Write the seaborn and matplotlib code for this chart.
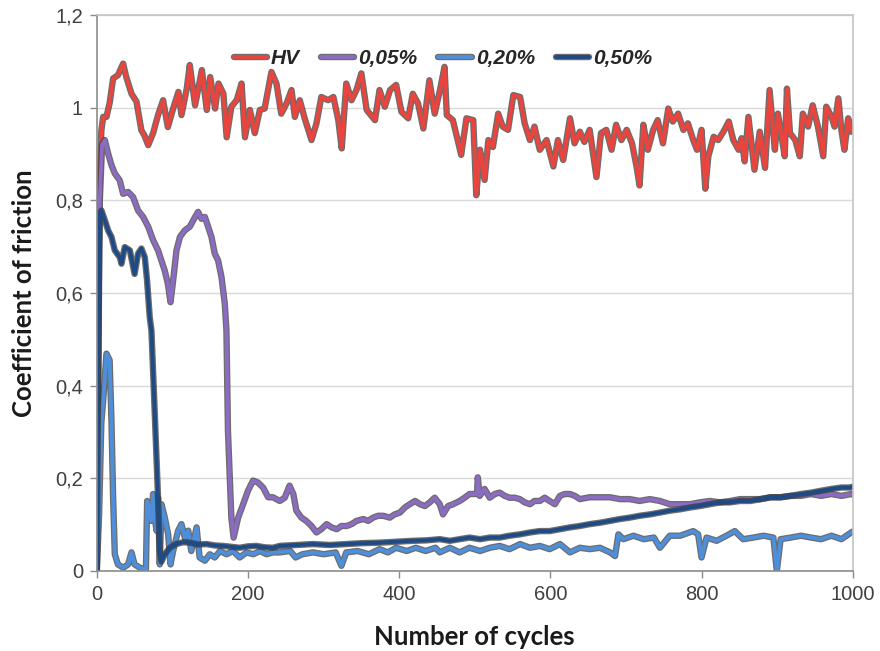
import numpy as np
import pandas as pd
import matplotlib
matplotlib.use("Agg")
import matplotlib.pyplot as plt
import matplotlib.patheffects as pe
from matplotlib.ticker import FuncFormatter
import seaborn as sns

# --- friction traces (cycle, coefficient of friction) ---
hv_cycles = [0, 3, 6, 8.4, 12.8, 17, 21.6, 28, 34.8, 39, 45.9, 52.5, 59, 63, 68, 74.5, 81, 87.7, 94,
             101, 108, 112, 119, 123, 130, 139, 145.5, 150, 156.5, 161, 167.5, 171.8, 178, 185, 191.5,
             196, 202.5, 209, 215.7, 222, 231, 237.7, 244, 251, 257.6, 262, 268.5, 275, 284, 290.6,
             297, 306, 313, 319.5, 324, 330, 337, 343.5, 350, 357, 368, 374, 381, 388, 396, 403, 412,
             418, 425, 432, 440, 447, 454, 460, 463, 471, 478, 482, 489, 498, 502, 507, 513, 518, 524,
             531, 537, 544, 551, 560, 566, 573, 579, 586, 595, 604, 610, 617, 626, 632, 639, 645, 652,
             661, 667, 674, 681, 687, 694, 701, 708, 714, 718, 723, 729, 736, 742, 749, 756, 762, 769,
             776, 782, 789, 794, 800, 805, 809, 816, 822, 829, 836, 842, 849, 853, 857, 862, 866, 870,
             877, 884, 890, 897, 901, 906, 910, 913, 917, 924, 930, 934, 941, 947, 954, 961, 965, 972,
             976, 981, 985, 989, 994, 998, 1000]
hv_cof = [0.0, 0.80, 0.95, 0.98, 0.98, 1.01, 1.063, 1.07, 1.095, 1.066, 1.03, 1.013, 0.951, 0.94, 0.919,
          0.945, 0.984, 1.016, 0.958, 0.998, 1.034, 0.984, 1.041, 1.092, 1.005, 1.081, 0.995, 1.066, 0.998,
          1.052, 1.030, 0.936, 1.002, 1.016, 1.052, 0.936, 0.995, 0.945, 0.995, 0.998, 1.077, 1.052, 0.987,
          1.009, 1.038, 0.980, 1.016, 0.977, 0.930, 0.966, 1.023, 1.016, 1.023, 0.973, 0.912, 1.052, 1.016,
          1.038, 1.074, 0.995, 0.973, 1.038, 1.002, 1.038, 1.049, 0.991, 0.977, 1.030, 1.009, 0.955, 1.059,
          0.987, 1.038, 1.088, 0.984, 0.973, 0.926, 0.898, 0.977, 0.973, 0.811, 0.909, 0.844, 0.930, 0.915,
          0.987, 0.959, 0.952, 1.027, 1.023, 0.966, 0.930, 0.959, 0.909, 0.930, 0.873, 0.930, 0.887, 0.977,
          0.923, 0.948, 0.926, 0.952, 0.850, 0.945, 0.952, 0.909, 0.963, 0.930, 0.952, 0.923, 0.873, 0.832,
          0.963, 0.909, 0.952, 0.973, 0.923, 0.998, 0.970, 0.987, 0.952, 0.966, 0.930, 0.909, 0.952, 0.825,
          0.895, 0.937, 0.930, 0.948, 0.970, 0.930, 0.909, 0.934, 0.884, 0.980, 0.923, 0.866, 0.948, 0.870,
          1.038, 0.909, 0.987, 0.937, 0.895, 1.041, 0.945, 0.930, 0.895, 0.987, 0.959, 1.005, 0.959, 0.895,
          1.002, 0.980, 0.959, 1.020, 0.952, 0.909, 0.977, 0.948, 0.955]

c005_cycles = [0, 2, 4, 7, 10.6, 15, 19.4, 23.8, 30.4, 34.8, 41.4, 48, 54.6, 61.3, 68, 74.5, 81, 85.5,
               89.9, 94, 97.5, 101, 105.4, 110, 116.4, 123, 130, 134, 138.5, 143, 147.3, 151.7, 156,
               160.5, 165, 169.3, 171.5, 173.5, 178, 181, 187, 193.6, 200, 206.7, 213, 220, 226.7, 233,
               242, 248.6, 255, 260, 264, 270.7, 277, 284, 290.6, 297, 304, 310.6, 317.5, 323.6, 330.7,
               337, 343.7, 352.5, 359, 365.5, 372, 379, 387.6, 394, 401, 407.6, 414, 421, 427.6, 434,
               440.5, 447, 453.7, 458, 464.7, 471.3, 480, 486.6, 493, 500, 503, 504, 506.6, 513, 519.8,
               526.5, 533, 539.7, 546, 553, 559.6, 566, 573, 579, 586, 592.6, 599, 606, 612.7, 619, 626,
               632.5, 639, 652, 665.6, 679, 692, 705, 718, 731.5, 745, 758, 771.6, 785, 797.6, 811,
               824.6, 838, 851, 864.7, 878, 891.5, 904.6, 918, 931.6, 945, 958, 972, 985, 998, 1000]
c005_cof = [0.0, 0.45, 0.80, 0.92, 0.93, 0.901, 0.876, 0.858, 0.843, 0.814, 0.818, 0.807, 0.778, 0.764,
            0.743, 0.714, 0.692, 0.670, 0.648, 0.620, 0.580, 0.627, 0.692, 0.721, 0.735, 0.743, 0.764,
            0.775, 0.760, 0.764, 0.743, 0.721, 0.685, 0.670, 0.634, 0.577, 0.519, 0.303, 0.115, 0.072,
            0.115, 0.144, 0.173, 0.195, 0.191, 0.180, 0.159, 0.159, 0.151, 0.158, 0.184, 0.166, 0.130,
            0.115, 0.108, 0.097, 0.083, 0.090, 0.101, 0.094, 0.090, 0.097, 0.097, 0.101, 0.108, 0.112,
            0.108, 0.115, 0.119, 0.119, 0.115, 0.122, 0.126, 0.137, 0.144, 0.151, 0.144, 0.140, 0.148,
            0.158, 0.144, 0.122, 0.140, 0.144, 0.151, 0.158, 0.166, 0.166, 0.166, 0.202, 0.162, 0.177,
            0.158, 0.166, 0.169, 0.162, 0.158, 0.158, 0.155, 0.148, 0.144, 0.151, 0.151, 0.158, 0.151,
            0.144, 0.162, 0.166, 0.166, 0.162, 0.155, 0.159, 0.159, 0.159, 0.155, 0.155, 0.151, 0.155,
            0.151, 0.144, 0.144, 0.144, 0.148, 0.151, 0.148, 0.151, 0.155, 0.155, 0.155, 0.159, 0.159,
            0.162, 0.162, 0.166, 0.162, 0.166, 0.162, 0.166, 0.165]

c020_cycles = [0, 3, 6, 9, 12.8, 17, 19.4, 21.6, 23.8, 28, 35, 41.4, 45.9, 50, 57, 63.5, 65, 66.6, 69.2,
               72.3, 74.5, 76.7, 79, 81, 83.3, 85.5, 90, 94.4, 97.5, 101, 107.6, 112, 116.4, 121, 125,
               132, 136, 143, 149.5, 156, 163, 171.6, 180.3, 189, 198, 207, 215.7, 224.5, 233, 242, 256,
               263, 272, 286, 300, 316, 323.6, 330, 345, 360, 374, 385, 396, 410, 422, 435, 448, 453.7,
               467, 480, 493, 507, 520, 533, 546, 560, 573, 586, 599, 612.7, 626, 639, 652, 665.6, 679,
               685.6, 690, 696.6, 710, 723.5, 737, 745, 758, 771.6, 789, 795.5, 800, 806.6, 820, 833,
               844, 855, 868.6, 882, 895, 899.6, 904.6, 918, 931.6, 945, 958, 972, 985, 998, 1000]
c020_cof = [0.0, 0.12, 0.32, 0.38, 0.469, 0.455, 0.324, 0.158, 0.036, 0.014, 0.007, 0.014, 0.040, 0.014,
            0.007, 0.004, 0.004, 0.151, 0.137, 0.108, 0.166, 0.115, 0.087, 0.158, 0.014, 0.144, 0.115,
            0.079, 0.014, 0.043, 0.087, 0.101, 0.072, 0.087, 0.043, 0.094, 0.029, 0.022, 0.036, 0.029,
            0.043, 0.036, 0.043, 0.029, 0.040, 0.036, 0.043, 0.036, 0.040, 0.040, 0.043, 0.029, 0.036,
            0.040, 0.036, 0.040, 0.011, 0.040, 0.043, 0.036, 0.047, 0.040, 0.050, 0.043, 0.050, 0.043,
            0.050, 0.040, 0.050, 0.040, 0.050, 0.043, 0.050, 0.054, 0.047, 0.058, 0.050, 0.054, 0.047,
            0.058, 0.040, 0.050, 0.047, 0.050, 0.040, 0.032, 0.079, 0.0685, 0.076, 0.0685, 0.072, 0.050,
            0.076, 0.076, 0.086, 0.079, 0.029, 0.072, 0.065, 0.076, 0.086, 0.0685, 0.072, 0.076, 0.072,
            0.0, 0.0685, 0.072, 0.076, 0.072, 0.0685, 0.076, 0.0685, 0.083, 0.085]

c050_cycles = [0, 1.5, 3, 4, 6.2, 10.6, 15, 19.4, 23.8, 30.4, 32.6, 37, 43.7, 50, 54.6, 59, 63.5, 66.5,
               70, 72.3, 76.7, 81, 83.3, 85.5, 90, 96.5, 105, 114, 123, 134, 145, 156, 167, 178, 189,
               200, 211, 222, 233, 242, 264, 286, 308, 330, 352, 374, 396, 418, 436, 453.7, 467, 480,
               493, 507, 520, 533, 546, 560, 573, 586, 599, 612.7, 626, 639, 652, 665.6, 679, 692, 705,
               718, 731.5, 745, 758, 771.6, 785, 797.6, 811, 824.6, 838, 851, 864.7, 878, 891.5, 904.6,
               918, 931.6, 945, 958, 972, 985, 998, 1000]
c050_cof = [0.0, 0.35, 0.70, 0.771, 0.778, 0.757, 0.735, 0.721, 0.692, 0.677, 0.663, 0.699, 0.692, 0.641,
            0.685, 0.696, 0.677, 0.627, 0.548, 0.519, 0.339, 0.158, 0.043, 0.020, 0.036, 0.050, 0.058,
            0.062, 0.061, 0.057, 0.058, 0.055, 0.054, 0.052, 0.050, 0.053, 0.054, 0.051, 0.050, 0.054,
            0.056, 0.058, 0.056, 0.058, 0.060, 0.061, 0.063, 0.065, 0.066, 0.0685, 0.065, 0.0685, 0.072,
            0.0685, 0.072, 0.072, 0.076, 0.079, 0.083, 0.086, 0.086, 0.090, 0.094, 0.097, 0.101, 0.104,
            0.108, 0.112, 0.115, 0.119, 0.122, 0.126, 0.130, 0.133, 0.137, 0.140, 0.144, 0.148, 0.148,
            0.151, 0.151, 0.155, 0.159, 0.159, 0.162, 0.166, 0.169, 0.173, 0.177, 0.180, 0.180, 0.182]

series_labels = ["HV", "0,05%", "0,20%", "0,50%"]
series_colors = ["#E8453F", "#8C6BC2", "#4E8FDB", "#1E4A86"]

x_ticks = [0, 200, 400, 600, 800, 1000]
y_ticks = [0, 0.2, 0.4, 0.6, 0.8, 1.0, 1.2]

frames = []
for lab, cyc, cof in zip(series_labels,
                         [hv_cycles, c005_cycles, c020_cycles, c050_cycles],
                         [hv_cof, c005_cof, c020_cof, c050_cof]):
    frames.append(pd.DataFrame({"cycles": cyc, "cof": cof, "series": lab}))
df = pd.concat(frames, ignore_index=True)

sns.set_style("white")
plt.rcParams["font.family"] = ["Liberation Sans", "DejaVu Sans"]

fig = plt.figure(figsize=(8.8, 6.51), dpi=100)
ax = fig.add_axes([0.110, 0.123, 0.859, 0.854])

outline = [pe.Stroke(linewidth=4.6, foreground="#3c3c3c", alpha=0.75), pe.Normal()]
for lab, col in zip(series_labels, series_colors):
    sub = df[df["series"] == lab]
    sns.lineplot(data=sub, x="cycles", y="cof", ax=ax, color=col, linewidth=2.8,
                 label=lab, estimator=None, sort=False, path_effects=outline)

ax.set_xlim(0, 1000)
ax.set_ylim(0, 1.2)
ax.set_xticks(x_ticks)
ax.set_yticks(y_ticks)


def comma_fmt(v, pos):
    if abs(v - round(v)) < 1e-9:
        return f"{int(round(v))}"
    return f"{v:.1f}".replace(".", ",")


ax.yaxis.set_major_formatter(FuncFormatter(comma_fmt))
ax.yaxis.grid(True, color="#d9d9d9", linewidth=1.0)
ax.xaxis.grid(False)
ax.set_axisbelow(True)

for side in ["left", "bottom"]:
    ax.spines[side].set_color("#8c8c8c")
    ax.spines[side].set_linewidth(1.2)
for side in ["top", "right"]:
    ax.spines[side].set_visible(True)
    ax.spines[side].set_color("#c4c4c4")
    ax.spines[side].set_linewidth(1.2)

ax.tick_params(axis="both", which="major", direction="out", length=5, width=1.0,
               color="#8c8c8c", labelsize=14.5, labelcolor="#404040", pad=5,
               bottom=True, left=True)

ax.set_xlabel("Number of cycles", fontsize=18.5, fontweight="bold", color="#1a1a1a",
              family=["Lato", "DejaVu Sans"], labelpad=15)
ax.set_ylabel("Coefficient of friction", fontsize=18.5, fontweight="bold", color="#1a1a1a",
              family=["Lato", "DejaVu Sans"], labelpad=14)

leg = ax.legend(loc="center", bbox_to_anchor=(0.458, 0.922), ncol=4, frameon=False,
                handlelength=1.6, handletextpad=0.2, columnspacing=1.0,
                prop={"family": ["Liberation Sans", "DejaVu Sans"], "weight": "bold",
                      "style": "italic", "size": 15})
for t in leg.get_texts():
    t.set_color("#262626")

fig.savefig("out.png", dpi=100)
